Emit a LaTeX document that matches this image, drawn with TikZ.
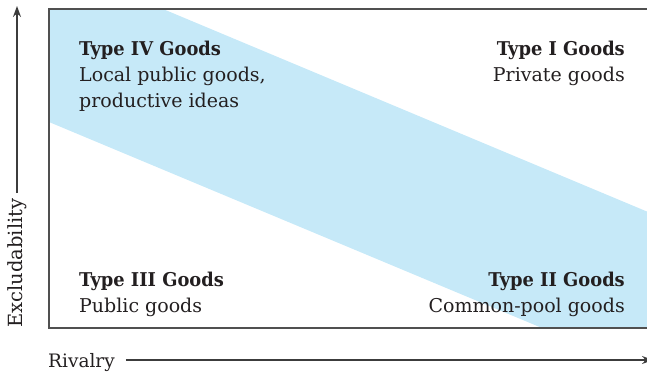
\documentclass[tikz,border=0pt]{standalone}
\usepackage{fontspec}
\setmainfont{DejaVu Serif}[BoldFeatures={FakeStretch=0.94}]
\usepackage{tikz}
\usetikzlibrary{arrows.meta,positioning}
\definecolor{bandblue}{RGB}{198,233,248}
\definecolor{inkdark}{RGB}{35,31,32}
\definecolor{framegray}{RGB}{80,80,80}
\definecolor{axisgray}{RGB}{60,60,60}
\tikzset{
  frameln/.style={line width=1.5pt, framegray},
  axisln/.style={-{Stealth[length=11pt,width=8pt]}, line width=1.3pt, axisgray},
  quad/.style={inner sep=0pt, text=inkdark, font=\fontsize{19}{26}\selectfont},
  axislab/.style={inner sep=0pt, text=inkdark, font=\fontsize{18.5}{22}\selectfont},
}

\begin{document}
\begin{tikzpicture}[x=1pt, y=-1pt]
  \useasboundingbox (0,0) rectangle (647,374);
  \begin{scope}
    \clip (0,0) rectangle (647,374);
    % band running across the four types
    \fill[bandblue] (49,9) -- (163,9) -- (660,217) -- (660,328)
      -- (542,328) -- (49,122) -- cycle;
    \draw[frameln] (660,9) -- (49,9) -- (49,328) -- (660,328);
  \end{scope}
  \node[quad, anchor=north west, align=left] (typefour) at (79,41)
    {\textbf{Type IV Goods}\\Local public goods,\\productive ideas};
  \node[quad, anchor=north east, align=right] (typeone) at (625,41)
    {\textbf{Type I Goods}\\Private goods};
  \node[quad, anchor=north west, align=left] (typethree) at (79,272)
    {\textbf{Type III Goods}\\Public goods};
  \node[quad, anchor=north east, align=right] (typetwo) at (625,272)
    {\textbf{Type II Goods}\\Common-pool goods};
  % axes
  \node[axislab, rotate=90, font=\fontsize{19.5}{22}\selectfont] (excl) at (17,263)
    {Excludability};
  \coordinate (ytip) at (17,6);
  \draw[axisln, shorten <=5pt] (excl.east) -- (ytip);
  \node[axislab, anchor=base west] (rival) at (48,367) {Rivalry};
  \coordinate (xtip) at (653,360);
  \draw[axisln, shorten <=11pt] (rival.east |- xtip) -- (xtip);
\end{tikzpicture}
\end{document}
